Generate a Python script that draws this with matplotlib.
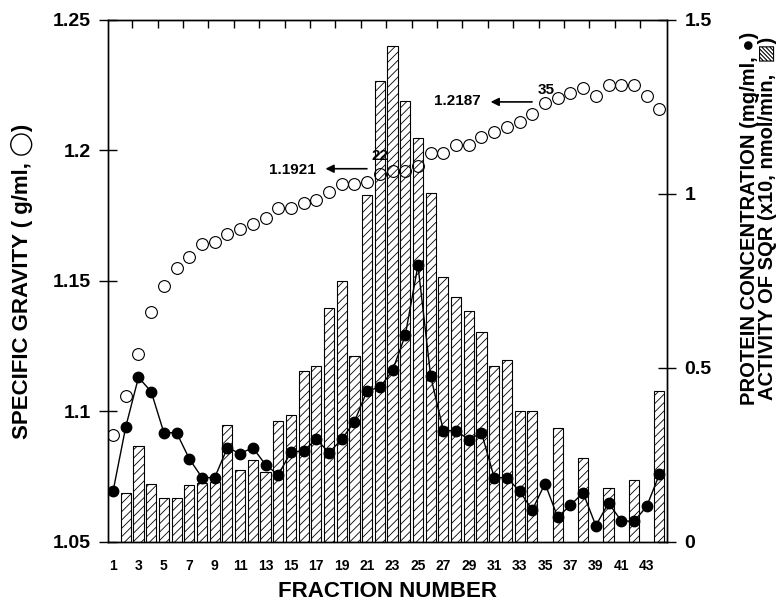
import numpy as np
import matplotlib
matplotlib.use('Agg')
import matplotlib.pyplot as plt

plt.rcParams['font.family'] = ['Liberation Sans', 'DejaVu Sans']
plt.rcParams['font.weight'] = 'bold'
plt.rcParams['hatch.linewidth'] = 0.6

fractions = np.arange(1, 45)

specific_gravity = [1.091, 1.106, 1.122, 1.138, 1.148, 1.155, 1.159, 1.164, 1.165, 1.168,
                    1.170, 1.172, 1.174, 1.178, 1.178, 1.180, 1.181, 1.184, 1.187, 1.187,
                    1.188, 1.191, 1.192, 1.192, 1.194, 1.199, 1.199, 1.202, 1.202, 1.205,
                    1.207, 1.209, 1.211, 1.214, 1.218, 1.220, 1.222, 1.224, 1.221, 1.225,
                    1.225, 1.225, 1.221, 1.216]

protein = [0.146, 0.331, 0.473, 0.432, 0.314, 0.314, 0.239, 0.185, 0.185, 0.271,
           0.254, 0.271, 0.222, 0.193, 0.258, 0.262, 0.295, 0.257, 0.295, 0.346,
           0.435, 0.444, 0.493, 0.594, 0.795, 0.476, 0.320, 0.320, 0.294, 0.314,
           0.185, 0.185, 0.146, 0.092, 0.168, 0.071, 0.106, 0.141, 0.047, 0.112,
           0.061, 0.059, 0.102, 0.194]

bar_fractions = list(range(2, 35)) + [36, 38, 40, 42, 44]
sqr_activity = [0.141, 0.277, 0.168, 0.126, 0.126, 0.163, 0.170, 0.173, 0.337, 0.208,
                0.237, 0.200, 0.349, 0.366, 0.490, 0.507, 0.671, 0.749, 0.533, 0.997,
                1.326, 1.424, 1.268, 1.161, 1.003, 0.761, 0.703, 0.663, 0.602, 0.507,
                0.524, 0.375, 0.375, 0.328, 0.242, 0.155, 0.178, 0.435]

xtick_labels = [str(i) for i in range(1, 44, 2)]
left_ticks = [1.05, 1.1, 1.15, 1.2, 1.25]
left_tick_labels = ['1.05', '1.1', '1.15', '1.2', '1.25']
right_ticks = [0, 0.5, 1, 1.5]
right_tick_labels = ['0', '0.5', '1', '1.5']

fig = plt.figure(figsize=(7.78, 6.01), dpi=100)
ax = fig.add_axes([0.1388, 0.0982, 0.7185, 0.8686])
ax2 = ax.twinx()

# bars + protein on the right axis
ax2.bar(bar_fractions, sqr_activity, width=0.8, color='white', edgecolor='black',
        hatch='////', linewidth=0.8, zorder=1)
ax2.plot(fractions, protein, color='black', lw=1.0, marker='o', ms=7.5, zorder=3)
ax2.set_ylim(0, 1.5)
ax2.set_yticks(right_ticks)
ax2.set_yticklabels(right_tick_labels, fontsize=14, fontweight='bold')
ax2.tick_params(axis='y', direction='inout', length=13, width=1.0, pad=6)
ax2.set_ylabel('PROTEIN CONCENTRATION (mg/ml, \u25cf)\nACTIVITY OF SQR (x10, nmol/min,  \u25a8)',
               fontsize=14.5, fontweight='bold', rotation=90, linespacing=0.95)
ax2.yaxis.set_label_coords(1.13, 0.62)

# specific gravity on the left axis, drawn above the bars
ax.set_zorder(ax2.get_zorder() + 1)
ax.patch.set_visible(False)
ax.plot(fractions, specific_gravity, ls='none', marker='o', ms=8.5, mfc='none',
        mec='black', mew=0.8)
ax.set_xlim(0.6, 44.6)
ax.set_ylim(1.05, 1.25)
ax.set_yticks(left_ticks)
ax.set_yticklabels(left_tick_labels, fontsize=14, fontweight='bold')
ax.tick_params(axis='y', direction='inout', length=13, width=1.0, pad=6)
ax.set_xticks(range(1, 44, 2))
ax.set_xticklabels(xtick_labels, fontsize=10, fontweight='bold')
ax.tick_params(axis='x', which='major', length=0, pad=12)
ax.set_xticks(np.arange(2.5, 43, 2), minor=True)
ax.tick_params(axis='x', which='minor', top=True, bottom=False, direction='in',
               length=6, width=1.0)
ax.set_xlabel('FRACTION NUMBER', fontsize=16, fontweight='bold', labelpad=6)
ax.set_ylabel('SPECIFIC GRAVITY ( g/ml, \u25ef)', fontsize=16, fontweight='bold')
ax.yaxis.set_label_coords(-0.134, 0.5)

for a in (ax, ax2):
    for s in a.spines.values():
        s.set_linewidth(1.0)

# density markers
ax.annotate('', xy=(17.5, 1.193), xytext=(21.2, 1.193),
            arrowprops=dict(arrowstyle='-|>', color='black', lw=1.2, mutation_scale=12))
ax.text(15.1, 1.1925, '1.1921', fontsize=11, fontweight='bold', ha='center', va='center')
ax.text(22.0, 1.198, '22', fontsize=11, fontweight='bold', ha='center', va='center')
ax.annotate('', xy=(30.5, 1.2186), xytext=(34.2, 1.2186),
            arrowprops=dict(arrowstyle='-|>', color='black', lw=1.2, mutation_scale=12))
ax.text(28.1, 1.219, '1.2187', fontsize=11, fontweight='bold', ha='center', va='center')
ax.text(35.1, 1.2232, '35', fontsize=11, fontweight='bold', ha='center', va='center')

fig.savefig('out.png', dpi=100)
